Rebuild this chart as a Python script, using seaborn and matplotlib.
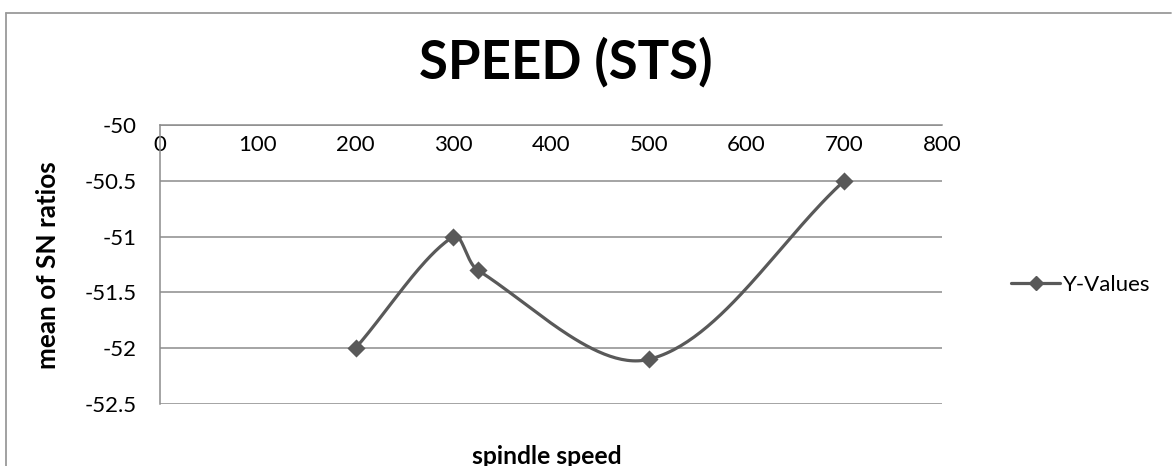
import numpy as np
import matplotlib
matplotlib.use("Agg")
import matplotlib.pyplot as plt
from matplotlib.lines import Line2D
import seaborn as sns
import pandas as pd

# ---- data ----
speed = [200, 300, 325, 500, 700]
sn_ratio = [-52.0, -51.0, -51.3, -52.1, -50.5]
x_ticks = [0, 100, 200, 300, 400, 500, 600, 700, 800]
y_ticks = [-52.5, -52, -51.5, -51, -50.5, -50]
y_tick_labels = ["-52.5", "-52", "-51.5", "-51", "-50.5", "-50"]
title = "SPEED (STS)"
x_label = "spindle speed"
y_label = "mean of SN ratios"
series_name = "Y-Values"

sns.set_theme(style="white")
plt.rcParams["font.family"] = ["Lato", "DejaVu Sans"]
plt.rcParams["text.color"] = "black"

W, H = 1172, 466
fig = plt.figure(figsize=(W / 100, H / 100), dpi=100)
L, R, T, B = 160, 942, 125, 404
ax = fig.add_axes([L / W, 1 - B / H, (R - L) / W, (B - T) / H])

line_col = "#595959"
grid_col = "#8c8c8c"

ax.set_xlim(0, 800)
ax.set_ylim(-52.5, -50)
ax.set_xticks(x_ticks)
ax.set_xticklabels([str(v) for v in x_ticks])
ax.set_yticks(y_ticks)
ax.set_yticklabels(y_tick_labels)
ax.yaxis.grid(True, color=grid_col, linewidth=1.1)
ax.xaxis.grid(False)
for s in ["right", "top"]:
    ax.spines[s].set_visible(False)
ax.spines["left"].set_color(grid_col)
ax.spines["left"].set_linewidth(1.1)
ax.spines["bottom"].set_position(("data", -50))
ax.spines["bottom"].set_color(grid_col)
ax.spines["bottom"].set_linewidth(1.1)
ax.tick_params(axis="x", length=0, pad=7, labelsize=16, colors="black")
ax.tick_params(axis="y", length=0, pad=17, labelsize=16, colors="black")

# smooth (Excel-like) curve through the points, computed in display space
fig.canvas.draw()
pts = ax.transData.transform(np.column_stack([speed, sn_ratio]))
n = len(pts)
curve = []
for i in range(n - 1):
    p0 = pts[i - 1] if i > 0 else pts[i]
    p1 = pts[i]
    p2 = pts[i + 1]
    p3 = pts[i + 2] if i + 2 < n else pts[i + 1]
    d0 = np.linalg.norm(p1 - p0)
    d1 = np.linalg.norm(p2 - p1)
    d2 = np.linalg.norm(p3 - p2)
    c1 = p1 + (p2 - p0) * (d1 / (3 * (d0 + d1))) if d0 > 0 else p1 + (p2 - p1) / 3
    c2 = p2 - (p3 - p1) * (d1 / (3 * (d1 + d2))) if d2 > 0 else p2 - (p2 - p1) / 3
    t = np.linspace(0, 1, 60)[:, None]
    seg = ((1 - t) ** 3) * p1 + 3 * ((1 - t) ** 2) * t * c1 + 3 * (1 - t) * t ** 2 * c2 + t ** 3 * p2
    curve.append(seg if i == 0 else seg[1:])
curve = ax.transData.inverted().transform(np.vstack(curve))
ax.plot(curve[:, 0], curve[:, 1], color=line_col, linewidth=2.3, solid_capstyle="round", zorder=3)

df = pd.DataFrame({"speed": speed, "sn": sn_ratio})
sns.scatterplot(data=df, x="speed", y="sn", ax=ax, marker="D", s=85, color=line_col,
                edgecolor=line_col, linewidth=0, zorder=4, legend=False)
ax.set_xlabel("")
ax.set_ylabel("")

# titles
fig.text(566 / W, 1 - 62 / H, title, ha="center", va="center", fontsize=38, fontweight="bold", color="black")
fig.text(547 / W, 1 - 456 / H, x_label, ha="center", va="center", fontsize=17.8, fontweight="bold", color="black")
fig.text(48 / W, 1 - 265 / H, y_label, ha="center", va="center", rotation=90, fontsize=18.8,
         fontweight="bold", color="black")

# legend
handle = Line2D([0], [0], color=line_col, linewidth=2.3, marker="D", markersize=7.5)
leg = fig.legend([handle], [series_name], loc="center left", bbox_to_anchor=(1000 / W, 1 - 285 / H),
                 frameon=False, fontsize=16, handlelength=2.2, handletextpad=0.15, borderpad=0)
for txt in leg.get_texts():
    txt.set_color("black")

# chart border
fig.add_artist(Line2D([6 / W, 6 / W], [0, 1 - 13 / H], color="#9a9a9a", linewidth=1.3, transform=fig.transFigure))
fig.add_artist(Line2D([6 / W, 1171 / W], [1 - 13 / H, 1 - 13 / H], color="#9a9a9a", linewidth=1.3, transform=fig.transFigure))

fig.savefig("out.png", dpi=100)
